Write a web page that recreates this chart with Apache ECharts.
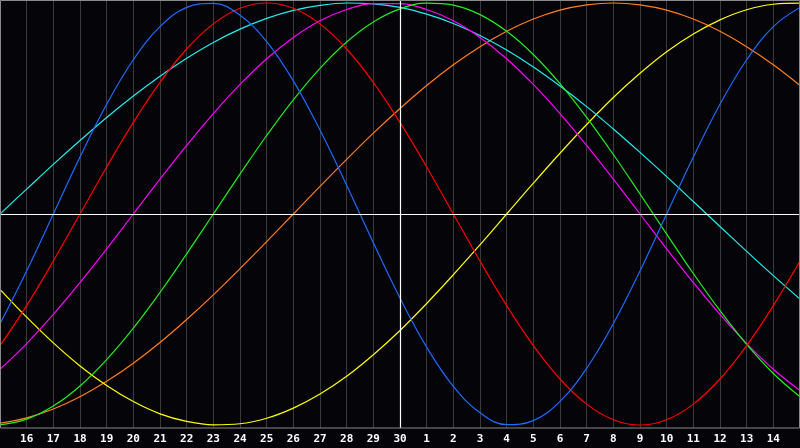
<!DOCTYPE html>
<html>
<head>
<meta charset="utf-8">
<script src="https://cdn.jsdelivr.net/npm/echarts@6/dist/echarts.min.js"></script>
<style>
html,body{margin:0;padding:0;background:#050409;}
#chart{width:800px;height:448px;}
</style>
</head>
<body>
<div id="chart"></div>
<script>
// x positions: day index 15..45 (30 = last day of month, 31.. = next month's 1..)
const days = [15,16,17,18,19,20,21,22,23,24,25,26,27,28,29,30,31,32,33,34,35,36,37,38,39,40,41,42,43,44,45];
const tickLabels = ['16','17','18','19','20','21','22','23','24','25','26','27','28','29','30','1','2','3','4','5','6','7','8','9','10','11','12','13','14'];

const blue = [-0.520,-0.270,0,0.270,0.520,0.731,0.888,0.979,0.998,0.942,0.817,0.631,0.398,0.136,-0.136,-0.398,-0.631,-0.817,-0.942,-0.998,-0.979,-0.888,-0.731,-0.520,-0.270,0,0.270,0.520,0.731,0.888,0.979];
const red = [-0.624,-0.434,-0.223,0,0.223,0.434,0.624,0.782,0.901,0.975,1,0.975,0.901,0.782,0.624,0.434,0.223,0,-0.223,-0.434,-0.624,-0.782,-0.901,-0.975,-1,-0.975,-0.901,-0.782,-0.624,-0.434,-0.223];
const green = [-0.999,-0.972,-0.910,-0.815,-0.690,-0.541,-0.372,-0.189,0,0.189,0.372,0.541,0.690,0.815,0.910,0.972,0.999,0.990,0.945,0.866,0.756,0.618,0.458,0.282,0.095,-0.095,-0.282,-0.458,-0.618,-0.756,-0.866];
const magenta = [-0.736,-0.614,-0.476,-0.325,-0.165,0,0.165,0.325,0.476,0.614,0.736,0.837,0.916,0.969,0.997,0.997,0.969,0.916,0.837,0.736,0.614,0.476,0.325,0.165,0,-0.165,-0.325,-0.476,-0.614,-0.736,-0.837];
const cyan = [0,0.118,0.235,0.348,0.457,0.559,0.653,0.738,0.813,0.876,0.927,0.965,0.989,1.000,0.996,0.979,0.947,0.903,0.846,0.777,0.697,0.607,0.509,0.403,0.292,0.177,0.059,-0.059,-0.177,-0.292,-0.403];
const orange = [-0.991,-0.966,-0.924,-0.866,-0.793,-0.707,-0.609,-0.5,-0.383,-0.259,-0.131,0,0.131,0.259,0.383,0.5,0.609,0.707,0.793,0.866,0.924,0.966,0.991,1,0.991,0.966,0.924,0.866,0.793,0.707,0.609];
const yellow = [-0.357,-0.489,-0.611,-0.720,-0.813,-0.889,-0.947,-0.983,-0.999,-0.994,-0.968,-0.920,-0.853,-0.769,-0.667,-0.552,-0.424,-0.288,-0.146,0,0.146,0.288,0.424,0.552,0.667,0.769,0.853,0.920,0.968,0.994,0.999];

const seriesDefs = [
  {name:'orange', data:orange, color:'#ff7f1e'},
  {name:'yellow', data:yellow, color:'#ffff00'},
  {name:'cyan', data:cyan, color:'#22eeee'},
  {name:'magenta', data:magenta, color:'#ff00ff'},
  {name:'green', data:green, color:'#22ee22'},
  {name:'red', data:red, color:'#ff0000'},
  {name:'blue', data:blue, color:'#1e6bff'}
];

const chart = echarts.init(document.getElementById('chart'), null, {renderer:'canvas'});
const series = seriesDefs.map(s => ({
  name: s.name,
  type: 'line',
  data: days.map((d,i) => [d, s.data[i]]),
  smooth: 0.4,
  symbol: 'none',
  lineStyle: {color: s.color, width: 1.2},
  silent: true
}));
series.push({
  type: 'line',
  data: [],
  markLine: {
    silent: true,
    symbol: 'none',
    label: {show: false},
    lineStyle: {color: '#ffffff', width: 1.2, type: 'solid'},
    data: [{yAxis: 0}, {xAxis: 30}]
  }
});

chart.setOption({
  backgroundColor: '#050409',
  animation: false,
  grid: {left: 0, right: 0, top: 0, bottom: 20, containLabel: false},
  xAxis: {
    type: 'value', min: 15, max: 45, interval: 1,
    axisLine: {show: true, lineStyle: {color: '#8a8a8a', width: 1}},
    axisTick: {show: false},
    splitLine: {show: true, lineStyle: {color: '#3a3a3a', width: 1}},
    axisLabel: {
      show: true, showMinLabel: false, showMaxLabel: false,
      color: '#ffffff', fontFamily: 'DejaVu Sans Mono', fontWeight: 'bold', fontSize: 11, margin: 6,
      formatter: v => (v >= 16 && v <= 44) ? tickLabels[v - 16] : ''
    }
  },
  yAxis: {
    type: 'value', min: -1.0142, max: 1.0142,
    axisLine: {show: false}, axisTick: {show: false}, axisLabel: {show: false}, splitLine: {show: false}
  },
  graphic: [{
    type: 'rect', silent: true, z: 100,
    shape: {x: 0.5, y: 0.5, width: 799, height: 427.5},
    style: {fill: null, stroke: '#8a8a8a', lineWidth: 1}
  }],
  series: series
});
</script>
</body>
</html>
